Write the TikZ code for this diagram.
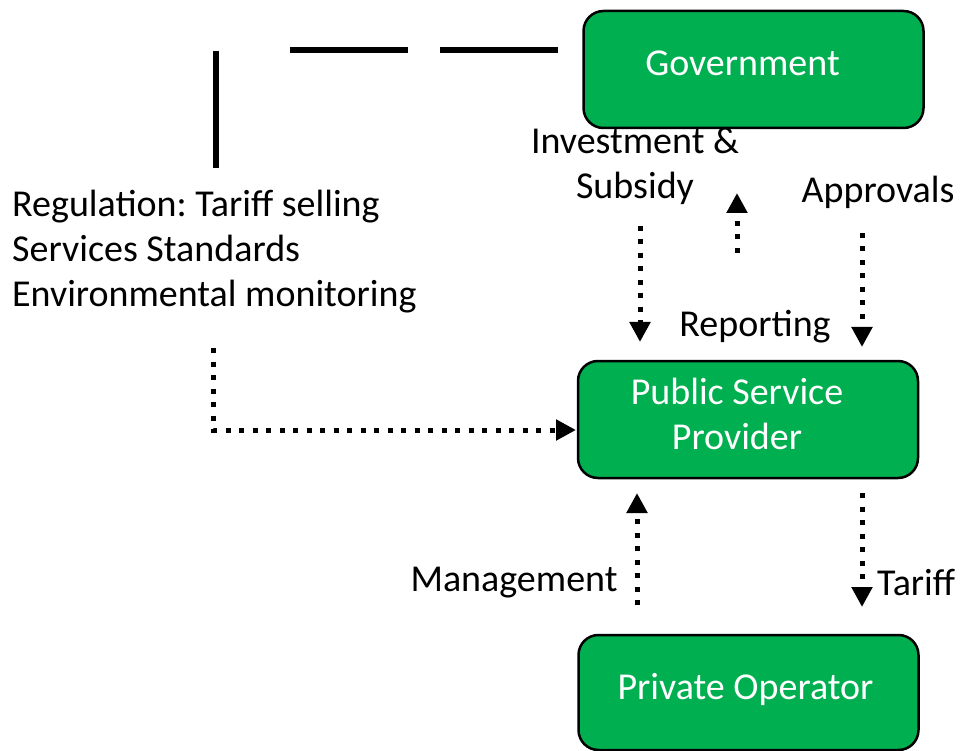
\documentclass[tikz,border=0pt]{standalone}
\usepackage{fontspec}
\setmainfont{Carlito}
\frenchspacing
\usetikzlibrary{arrows.meta}
\definecolor{boxgreen}{HTML}{00B050}
\begin{document}
\begin{tikzpicture}[x=1pt, y=-1pt,
  box/.style={draw=black, line width=2.5pt, fill=boxgreen, rounded corners=20pt, minimum width=340pt, minimum height=117pt, text=white, align=center, text depth=12pt, font=\fontsize{38}{45}\selectfont},
  textshift/.style={execute at end node={\hspace*{#1}}},
  lbl/.style={inner sep=0pt, align=center, font=\fontsize{38}{45}\selectfont},
  flow/.style={line width=5pt, dash pattern=on 5pt off 8.5pt, -{Triangle[length=20pt, width=20pt]}},
  bar/.style={line width=6pt}]
\useasboundingbox (0,0) rectangle (964,751);
\node[box, textshift=22pt] (gov) at (753.5,69.5){Government};
\node[box, textshift=22pt] (psp) at (748,419.5){Public Service\\Provider};
\node[box, textshift=6pt, minimum height=115pt] (priv) at (748.5,692.5){Private Operator};
\node[lbl] (inv) at (635,166){Investment \&\\Subsidy};
\node[lbl] (appr) at (878,192){Approvals};
\node[lbl] (rep) at (755,327){Reporting};
\node[lbl] (mgmt) at (514,583){Management};
\node[lbl, anchor=west] (tar) at (877,583){Tariff};
\node[lbl, anchor=west, align=left] (reg) at (12,252){Regulation: Tariff selling\\Services Standards\\Environmental monitoring};
\coordinate (v1) at (216,168);
\coordinate (v2) at (216,51);
\coordinate (h1) at (290,50);
\coordinate (h2) at (558,50);
\draw[bar](v1) -- (v2);
\draw[bar, dash pattern=on 118pt off 32pt](h1) -- (h2);
\coordinate (i1) at (640,226);
\coordinate (i2) at (640,342);
\coordinate (p1) at (737,253);
\coordinate (p2) at (737,193);
\coordinate (a1) at (862,233);
\coordinate (a2) at (862,347);
\coordinate (r1) at (213,348);
\coordinate (r2) at (576,430);
\coordinate (m1) at (637,605);
\coordinate (m2) at (637,493);
\coordinate (t1) at (862,493);
\coordinate (t2) at (862,607);
\draw[flow](i1) -- (i2);
\draw[flow](p1) -- (p2);
\draw[flow](a1) -- (a2);
\draw[flow](r1) |- (r2);
\draw[flow](m1) -- (m2);
\draw[flow](t1) -- (t2);
\end{tikzpicture}
\end{document}
